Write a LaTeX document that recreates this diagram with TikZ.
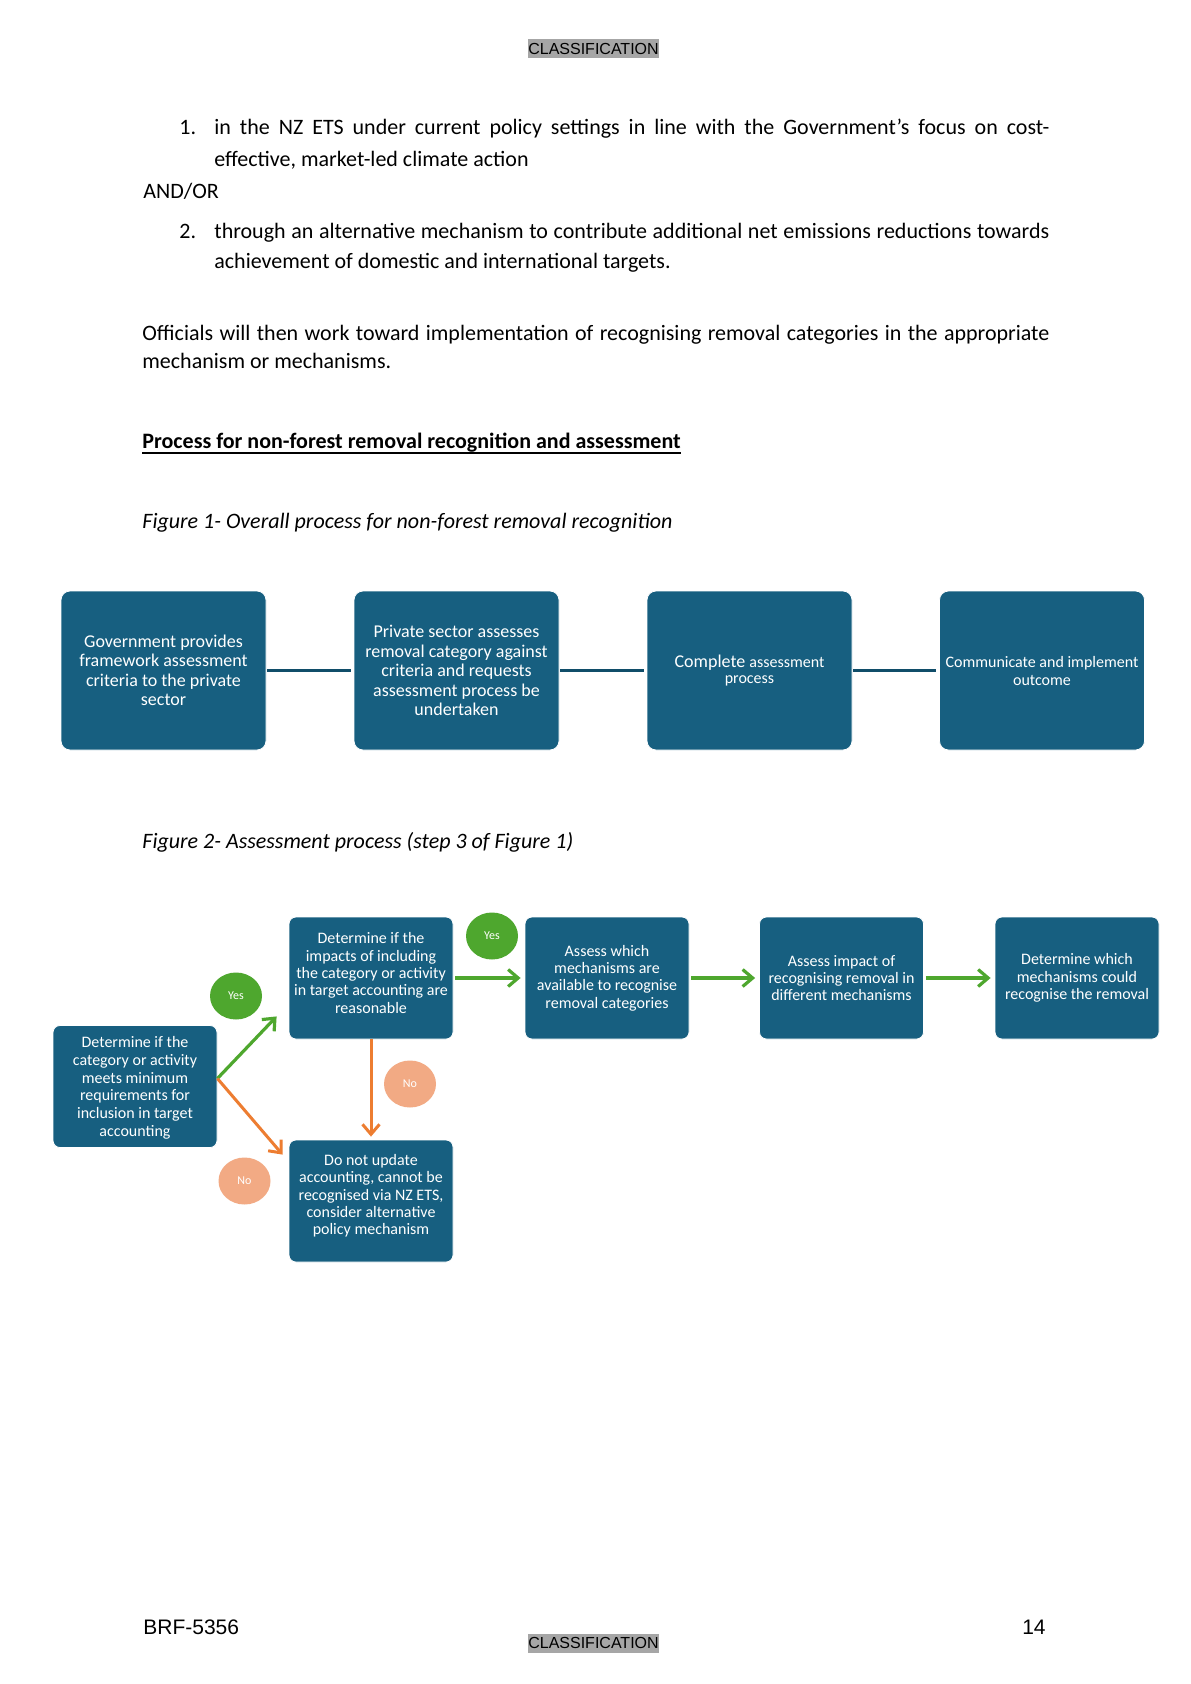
\documentclass[tikz,border=0pt]{standalone}
\usepackage{fontspec}
\setmainfont{Carlito}
\newfontfamily\arialfont{Liberation Sans}
\usetikzlibrary{arrows.meta,shapes.geometric,calc}
\definecolor{boxblue}{RGB}{23,95,128}
\definecolor{linkblue}{RGB}{16,77,105}
\definecolor{yesgreen}{RGB}{78,167,46}
\definecolor{noorange}{RGB}{237,125,49}
\definecolor{nosalmon}{RGB}{242,170,132}
\definecolor{classgrey}{RGB}{166,166,166}
\begin{document}
\begin{tikzpicture}[x=0.5pt,y=-0.5pt]

		\tikzset{
		  body/.style={anchor=base west, inner sep=0pt, font=\fontsize{11}{13}\selectfont},
		  classmark/.style={fill=classgrey, inner sep=0pt, minimum width=64.5pt, minimum height=9.5pt, font=\arialfont\fontsize{8}{9}\selectfont},
		  stage/.style={
			fill=boxblue,
			draw=white,
			line width=0.4pt,
			rounded corners=4.5pt,
			minimum width=102.5pt,
			minimum height=79.5pt,
			inner sep=0pt,
			text=white,
			align=center,
			font=\fontsize{9}{9.7}\selectfont,
		  },
		  task/.style={
			stage,
			rounded corners=3.5pt,
			minimum width=82pt,
			minimum height=61pt,
			font=\fontsize{8}{8.65}\selectfont,
		  },
		  yesmark/.style={ellipse, fill=yesgreen, text=white, inner sep=0pt, minimum width=26pt, minimum height=23.5pt, font=\fontsize{6}{7}\selectfont},
		  nomark/.style={yesmark, fill=nosalmon},
		  link/.style={draw=linkblue, line width=1.75pt, shorten <=0.5pt, shorten >=1.5pt},
		  yesarrow/.style={draw=yesgreen, line width=1.6pt, -{Straight Barb[length=5pt,width=8.5pt]}},
		  noarrow/.style={draw=noorange, line width=1.5pt, -{Straight Barb[length=5pt,width=8.5pt]}},
		}
		\useasboundingbox (0,0) rectangle (1190,1684);
		\fill[white] (0,0) rectangle (1190,1684);

		\node[classmark] (classtop) at (593.5,48.5) {CLASSIFICATION};
		\node[classmark] (classbottom) at (593.5,1643) {CLASSIFICATION};

		\draw [color={black}] (179,135) node[body] (num1) {1.};
		\draw [color={black}] (214,135) node[body] (item1a) {\makebox[417.5pt][s]{in the NZ ETS under current policy settings in line with the Government’s focus on cost-}};
		\draw [color={black}] (214,166.5) node[body] (item1b) {effective, market-led climate action};
		\draw [color={black}] (143,199) node[body] (andor) {AND/OR};
		\draw [color={black}] (179,238.5) node[body] (num2) {2.};
		\draw [color={black}] (214,238.5) node[body] (item2a) {\makebox[417.5pt][s]{through an alternative mechanism to contribute additional net emissions reductions towards}};
		\draw [color={black}] (214,269) node[body] (item2b) {achievement of domestic and international targets.};
		\draw [color={black}] (142,341) node[body] (officialsa) {\makebox[453.5pt][s]{Officials will then work toward implementation of recognising removal categories in the appropriate}};
		\draw [color={black}] (142,369) node[body] (officialsb) {mechanism or mechanisms.};
		\draw [color={black}] (142,448) node[body] (heading) {\bfseries Process for non-forest removal recognition and assessment};
		\draw[line width=1pt] ([yshift=-2.5pt]heading.base west) -- ([yshift=-2.5pt]heading.base east);
		\draw [color={black}] (142,528) node[body] (figone) {\itshape Figure 1- Overall process for non-forest removal recognition};
		\draw [color={black}] (142,848) node[body] (figtwo) {\itshape Figure 2- Assessment process (step 3 of Figure 1)};

		\node[stage] (govt) at (163.5,670.5) {Government provides\\framework assessment\\criteria to the private\\sector};
		\node[stage] (private) at (456.5,670.5) {Private sector assesses\\removal category against\\criteria and requests\\assessment process be\\undertaken};
		\node[stage, font=\fontsize{9}{8}\selectfont] (complete) at (749.5,670.5) {Complete {\fontsize{8}{8}\selectfont assessment}\\{\fontsize{8}{8}\selectfont process}};
		\node[stage, font=\fontsize{8}{9}\selectfont] (communicate) at (1042,670.5) {Communicate and implement\\outcome};
		\draw[link] (govt) -- (private);
		\draw[link] (private) -- (complete);
		\draw[link] (complete) -- (communicate);

		\node[task, font=\fontsize{8}{8.85}\selectfont, text depth=0pt] (minimum) at (135,1086.5) {Determine if the\\category or activity\\meets minimum\\requirements for\\inclusion in target\\accounting};
		\node[task, text depth=5pt] (impacts) at (371,978) {Determine if the\\impacts of including\\the category or activity\\in target accounting are\\reasonable};
		\node[task] (available) at (607,978) {Assess which\\mechanisms are\\available to recognise\\removal categories};
		\node[task] (different) at (841.5,978) {Assess impact of\\recognising removal in\\different mechanisms};
		\node[task] (could) at (1077,978) {Determine which\\mechanisms could\\recognise the removal};
		\node[task, text depth=6.5pt] (noupdate) at (371,1201) {Do not update\\accounting, cannot be\\recognised via NZ ETS,\\consider alternative\\policy mechanism};

		\node[yesmark] (yesone) at (236,996) {Yes};
		\node[yesmark] (yestwo) at (492,936) {Yes};
		\node[nomark] (noone) at (410,1084) {No};
		\node[nomark] (notwo) at (244.5,1181) {No};

		\coordinate (split) at ([yshift=4pt]minimum.east);
		\draw[yesarrow] (split) -- ($(impacts.south west)+(-12,-23)$);
		\draw[noarrow] (split) -- ($(noupdate.north west)+(-6,15)$);
		\draw[noarrow, shorten >=1.5pt] (impacts) -- (noupdate);
		\draw[yesarrow, shorten <=1pt, shorten >=2pt] (impacts) -- (available);
		\draw[yesarrow, shorten <=1pt, shorten >=2pt] (available) -- (different);
		\draw[yesarrow, shorten <=1pt, shorten >=2pt] (different) -- (could);

		\node[anchor=base west, inner sep=0pt, font=\arialfont\fontsize{10.5}{12}\selectfont] (brf) at (143,1634) {BRF-5356};
		\node[anchor=base east, inner sep=0pt, font=\arialfont\fontsize{10.5}{12}\selectfont] (pageno) at (1046,1634) {14};

	\end{tikzpicture}
\end{document}
